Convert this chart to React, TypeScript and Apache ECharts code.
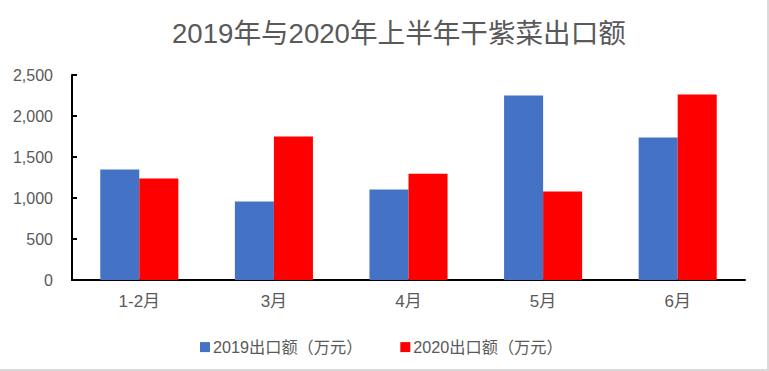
import React, { useEffect, useRef } from "react";
import * as echarts from "echarts";

const categories = ["1-2月", "3月", "4月", "5月", "6月"];
const values2019 = [1347, 957, 1104, 2250, 1738];
const values2020 = [1238, 1750, 1295, 1079, 2262];
const seriesNames = ["2019出口额（万元）", "2020出口额（万元）"];
const titleText = "2019年与2020年上半年干紫菜出口额";

const FONT = "'Liberation Sans', 'Noto Sans CJK SC', sans-serif";

export default function App() {
  const ref = useRef<HTMLDivElement>(null);
  useEffect(() => {
    if (!ref.current) return;
    const chart = echarts.init(ref.current, null, { renderer: "svg" });
    chart.setOption({
      animation: false,
      backgroundColor: "#ffffff",
      title: {
        text: titleText,
        left: 167,
        top: 15,
        textStyle: { fontFamily: FONT, fontSize: 27.6, fontWeight: "normal", color: "#595959" },
      },
      legend: {
        left: 195,
        top: 334,
        itemWidth: 10,
        itemHeight: 10,
        itemGap: 38,
        icon: "rect",
        textStyle: { fontFamily: FONT, fontSize: 16.2, color: "#595959", padding: [0, 0, 0, -2] },
        data: seriesNames,
      },
      grid: { left: 72, right: 24, top: 75, bottom: 91, containLabel: false },
      xAxis: {
        type: "category",
        data: categories,
        axisLine: { lineStyle: { color: "#000000", width: 2 } },
        axisTick: { show: false },
        axisLabel: { fontFamily: FONT, fontSize: 17, color: "#595959", margin: 13 },
      },
      yAxis: {
        type: "value",
        min: 0,
        max: 2500,
        interval: 500,
        axisLine: { show: true, lineStyle: { color: "#000000", width: 2 } },
        axisTick: { show: true, inside: true, length: 5, lineStyle: { color: "#000000", width: 2 } },
        splitLine: { show: false },
        axisLabel: {
          fontFamily: FONT,
          fontSize: 16,
          color: "#595959",
          margin: 19,
          formatter: (v: number) => v.toLocaleString("en-US"),
        },
      },
      series: [
        {
          name: seriesNames[0],
          type: "bar",
          data: values2019,
          itemStyle: { color: "#4472C4" },
          barGap: "0%",
          barCategoryGap: "42%",
        },
        {
          name: seriesNames[1],
          type: "bar",
          data: values2020,
          itemStyle: { color: "#FF0000" },
          barGap: "0%",
          barCategoryGap: "42%",
        },
      ],
      graphic: [
        { type: "rect", shape: { x: 767, y: 0, width: 2, height: 371 }, style: { fill: "#d9d9d9" }, silent: true },
        { type: "rect", shape: { x: 0, y: 369, width: 769, height: 2 }, style: { fill: "#d9d9d9" }, silent: true },
      ],
    });
    return () => chart.dispose();
  }, []);
  return (
    <div
      ref={ref}
      style={{ position: "absolute", left: 0, top: 0, width: 769, height: 371 }}
    />
  );
}
